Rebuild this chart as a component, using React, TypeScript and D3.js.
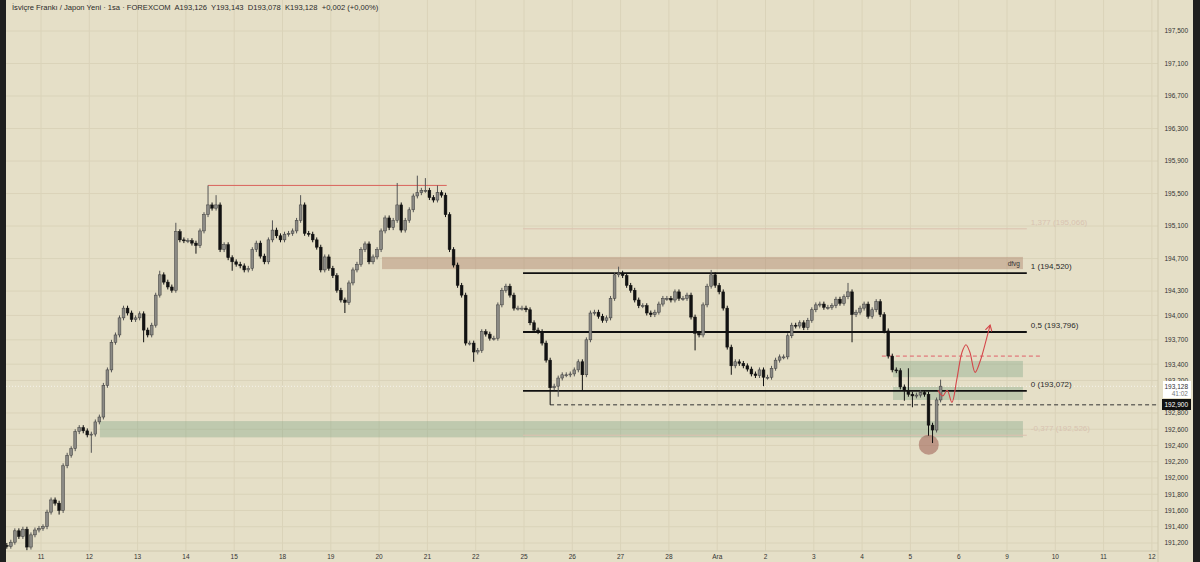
import React from "react";
import * as d3 from "d3";

// ---------- DATA ----------
const titleText =
  "İsviçre Frankı / Japon Yeni · 1sa · FOREXCOM  A193,126  Y193,143  D193,078  K193,128  +0,002 (+0,00%)";

const dayLabels = ["11", "12", "13", "14", "15", "18", "19", "20", "21", "22", "25", "26", "27", "28", "Ara", "2", "3", "4", "5", "6", "9", "10", "11", "12"];

const priceTicks = [197.5, 197.1, 196.7, 196.3, 195.9, 195.5, 195.1, 194.7, 194.3, 194.0, 193.7, 193.4, 193.2, 192.8, 192.6, 192.4, 192.2, 192.0, 191.8, 191.6, 191.4, 191.2];

// 2-hour candles, first one starts 19h before the "11" session
const candleStartHour = -19;
const candleStepHours = 2;
const firstOpen = 191.2;
const closes = [
  191.17, 191.16, 191.21, 191.35, 191.28, 191.37, 191.15, 191.30, 191.36, 191.38,
  191.40, 191.58, 191.73, 191.69, 191.60, 192.15, 192.28, 192.36, 192.57, 192.62,
  192.58, 192.53, 192.54, 192.69, 192.75, 193.14, 193.33, 193.67, 193.76, 193.97,
  194.09, 194.03, 193.95, 193.97, 194.02, 193.82, 193.76, 193.88, 194.25, 194.50,
  194.41, 194.35, 194.31, 195.03, 194.93, 194.92, 194.92, 194.89, 194.86, 195.04,
  195.24, 195.36, 195.32, 195.36, 194.81, 194.87, 194.71, 194.66, 194.63, 194.61,
  194.56, 194.58, 194.81, 194.89, 194.73, 194.66, 194.93, 195.05, 194.98, 194.93,
  195.00, 195.01, 195.04, 195.17, 195.36, 195.01, 195.00, 194.93, 194.84, 194.56,
  194.72, 194.58, 194.49, 194.31, 194.19, 194.16, 194.40, 194.56, 194.63, 194.81,
  194.88, 194.66, 194.72, 194.81, 195.04, 195.20, 195.08, 195.17, 195.36, 195.05,
  195.17, 195.30, 195.47, 195.51, 195.54, 195.54, 195.45, 195.42, 195.51, 195.48,
  195.24, 194.81, 194.62, 194.37, 194.25, 193.66, 193.66, 193.55, 193.57, 193.80,
  193.77, 193.72, 193.72, 194.13, 194.31, 194.36, 194.25, 194.09, 194.09, 194.09,
  194.07, 193.91, 193.82, 193.80, 193.66, 193.45, 193.11, 193.13, 193.23, 193.27,
  193.27, 193.28, 193.33, 193.43, 193.27, 193.70, 194.03, 194.04, 193.99, 193.94,
  193.97, 194.21, 194.50, 194.52, 194.49, 194.37, 194.31, 194.19, 194.12, 194.12,
  194.03, 194.01, 194.04, 194.14, 194.21, 194.21, 194.19, 194.29, 194.21, 194.21,
  194.25, 193.98, 193.78, 193.76, 194.13, 194.36, 194.50, 194.37, 194.29, 194.09,
  193.61, 193.38, 193.43, 193.41, 193.38, 193.34, 193.28, 193.26, 193.33, 193.24,
  193.24, 193.35, 193.45, 193.49, 193.49, 193.75, 193.88, 193.87, 193.91, 193.85,
  193.94, 194.07, 194.13, 194.14, 194.10, 194.10, 194.12, 194.20, 194.15, 194.23,
  194.29, 194.01, 194.04, 194.09, 194.14, 193.99, 194.07, 194.17, 194.01, 193.81,
  193.50, 193.33, 193.32, 193.12, 193.08, 193.03, 193.01, 193.02, 193.05, 193.03,
  192.65, 192.59, 192.96, 193.13,
];
const defaultWick = 0.03;
const highSpikes: [number, number][] = [
  [39, 194.55], [43, 195.14], [51, 195.6], [53, 195.48], [67, 195.17], [74, 195.48],
  [98, 195.63], [103, 195.72], [105, 195.69], [108, 195.6], [153, 194.6], [176, 194.56],
  [210, 194.4], [225, 193.35], [233, 193.21],
];
const lowSpikes: [number, number][] = [
  [6, 191.11], [14, 191.55], [22, 192.31], [35, 193.67], [48, 194.76], [57, 194.55],
  [85, 194.03], [117, 193.43], [136, 192.9], [138, 193.0], [144, 193.08], [172, 193.57],
  [181, 193.27], [189, 193.13], [211, 193.67], [224, 192.95], [226, 192.87], [230, 192.52],
  [231, 192.43],
];

const fibStart = 9.98;
const fibEnd = 20.41;
const fibRatios = ["1,377", "1", "0,5", "0", "-0,377"];
const fibPrices = [195.066, 194.52, 193.796, 193.072, 192.526];
const fibFaint = [true, false, false, false, true];

const zoneX0 = [7.06, 1.22, 17.64, 17.64];
const zoneX1 = [20.33, 20.33, 20.33, 20.33];
const zoneTop = [194.72, 192.7, 193.44, 193.12];
const zoneBottom = [194.57, 192.5, 193.24, 192.96];
const zoneColor = ["rgba(172,128,104,0.42)", "rgba(120,160,130,0.35)", "rgba(120,160,130,0.35)", "rgba(120,160,130,0.35)"];

const highLine = { x0: 3.46, x1: 8.4, price: 195.6 };
const redDashed = { x0: 17.41, x1: 20.74, price: 193.5 };
const blackDashed = { x0: 10.54, price: 192.9 };
const lastPrice = 193.128;
const markerCircle = { day: 18.38, price: 192.41 };
const projectionDays = [18.57, 18.67, 18.76, 18.86, 18.96, 19.07, 19.15, 19.23, 19.34, 19.44, 19.57, 19.65];
const projectionPrices = [193.08, 193.01, 193.08, 192.93, 193.21, 193.55, 193.64, 193.55, 193.3, 193.43, 193.7, 193.88];

// ---------- LAYOUT ----------
const W = 1200;
const H = 562;
const plotLeft = 6;
const plotRight = 1158;
const axisBottom = 551;
const font = "'Liberation Sans', Arial, sans-serif";
const bg = "#e5dfc7";
const grid = "#dad3b9";

const fmt = (v: number) => d3.format(".3f")(v).replace(".", ",");

export default function App() {
  const x = d3.scaleLinear().domain([0, 23]).range([41, 41 + 48.3 * 23]);
  const y = d3.scaleLinear().domain([191.2, 197.5]).range([543, 31]);

  const hiMap = new Map(highSpikes);
  const loMap = new Map(lowSpikes);
  const candles = closes.map((c, i) => {
    const o = i === 0 ? firstOpen : closes[i - 1];
    const t = (candleStartHour + candleStepHours * i) / 24;
    const h = hiMap.has(i) ? (hiMap.get(i) as number) : Math.max(o, c) + defaultWick;
    const l = loMap.has(i) ? (loMap.get(i) as number) : Math.min(o, c) - defaultWick;
    return { t, o, c, h, l };
  });
  const bodyW = 2.8;

  const projLine = d3
    .line<number>()
    .x((_, i) => x(projectionDays[i]))
    .y((p) => y(p))
    .curve(d3.curveCatmullRom.alpha(0.5));

  return (
    <div style={{ position: "absolute", left: 0, top: 0 }}>
      <svg width={W} height={H} style={{ display: "block" }}>
        <defs>
          <marker id="arr" viewBox="0 0 8 8" refX="6" refY="4" markerWidth="7" markerHeight="7" orient="auto">
            <path d="M0,0.5 L6,4 L0,7.5" fill="none" stroke="#d4474a" strokeWidth="1.2" />
          </marker>
        </defs>
        <rect x={0} y={0} width={W} height={H} fill={bg} />
        {/* grid */}
        {priceTicks.map((p) => (
          <line key={"hg" + p} x1={plotLeft} x2={plotRight} y1={y(p)} y2={y(p)} stroke={grid} strokeWidth={1} />
        ))}
        {dayLabels.map((d, i) => (
          <line key={"vg" + i} x1={x(i)} x2={x(i)} y1={0} y2={axisBottom} stroke={grid} strokeWidth={1} />
        ))}
        {/* zones */}
        {zoneX0.map((x0, i) => (
          <rect
            key={"z" + i}
            x={x(x0)}
            width={x(zoneX1[i]) - x(x0)}
            y={y(zoneTop[i])}
            height={y(zoneBottom[i]) - y(zoneTop[i])}
            fill={zoneColor[i]}
          />
        ))}
        <text x={x(zoneX1[0]) - 3} y={y(zoneBottom[0]) - 3} fontSize={6.5} fontFamily={font} fill="#333" textAnchor="end">
          dfvg
        </text>
        {/* last price dotted line */}
        <line x1={plotLeft} x2={plotRight} y1={y(lastPrice)} y2={y(lastPrice)} stroke="#f6f3ea" strokeWidth={1} strokeDasharray="1,2" />
        {/* high line */}
        <line x1={x(highLine.x0)} x2={x(highLine.x1)} y1={y(highLine.price)} y2={y(highLine.price)} stroke="#d9625b" strokeWidth={1} />
        {/* fib */}
        {fibPrices.map((p, i) => (
          <g key={"f" + i}>
            <line
              x1={x(fibStart)}
              x2={x(fibEnd)}
              y1={y(p)}
              y2={y(p)}
              stroke={fibFaint[i] ? "#dcc0b0" : "#111"}
              strokeWidth={fibFaint[i] ? 1 : 1.8}
            />
            <text x={x(fibEnd) + 4} y={y(p) - 4} fontSize={8} fontFamily={font} fill={fibFaint[i] ? "#d8c3b1" : "#2a2a2a"}>
              {`${fibRatios[i]} (${fmt(p)})`}
            </text>
          </g>
        ))}
        {/* dashed lines */}
        <line x1={x(blackDashed.x0)} x2={plotRight} y1={y(blackDashed.price)} y2={y(blackDashed.price)} stroke="#333" strokeWidth={1} strokeDasharray="4,3" />
        <line x1={x(redDashed.x0)} x2={x(redDashed.x1)} y1={y(redDashed.price)} y2={y(redDashed.price)} stroke="#e0606a" strokeWidth={1} strokeDasharray="4,3" />
        {/* circle */}
        <circle cx={x(markerCircle.day)} cy={y(markerCircle.price)} r={10} fill="rgba(150,80,70,0.5)" />
        {/* candles */}
        {candles.map((d, i) => {
          const cx = x(d.t);
          const up = d.c >= d.o;
          const top = y(Math.max(d.o, d.c));
          const bh = Math.max(1, y(Math.min(d.o, d.c)) - top);
          return (
            <g key={"c" + i}>
              <line x1={cx} x2={cx} y1={y(d.h)} y2={y(d.l)} stroke={up ? "#555" : "#111"} strokeWidth={1} />
              <rect
                x={cx - bodyW / 2}
                y={top}
                width={bodyW}
                height={bh}
                fill={up ? "#8b8a85" : "#121212"}
                stroke={up ? "#3a3a3a" : "#121212"}
                strokeWidth={0.5}
              />
            </g>
          );
        })}
        {/* projection */}
        <path d={projLine(projectionPrices) || ""} fill="none" stroke="#d4474a" strokeWidth={1.1} markerEnd="url(#arr)" />
        {/* axes */}
        <line x1={plotLeft} x2={plotRight} y1={axisBottom} y2={axisBottom} stroke="#cfc8ae" strokeWidth={1} />
        <line x1={plotRight} x2={plotRight} y1={0} y2={H} stroke="#cfc8ae" strokeWidth={1} />
        {priceTicks.map((p) => (
          <text key={"pt" + p} x={1188} y={y(p) + 2.3} fontSize={6.5} fontFamily={font} fill="#333" textAnchor="end">
            {fmt(p)}
          </text>
        ))}
        {dayLabels.map((d, i) => (
          <text key={"dl" + i} x={x(i)} y={559} fontSize={6.5} fontFamily={font} fill="#333" textAnchor="middle">
            {d}
          </text>
        ))}
        {/* price boxes */}
        <rect x={1163} y={381} width={28} height={17} fill="#ffffff" />
        <text x={1188} y={388.5} fontSize={6.5} fontFamily={font} fill="#333" textAnchor="end">
          {fmt(lastPrice)}
        </text>
        <text x={1188} y={396} fontSize={6.5} fontFamily={font} fill="#777" textAnchor="end">
          41:02
        </text>
        <rect x={1162} y={399} width={29} height={11} fill="#111" />
        <text x={1188} y={407.3} fontSize={6.5} fontFamily={font} fill="#fff" textAnchor="end">
          {fmt(blackDashed.price)}
        </text>
        {/* title */}
        <text x={12} y={9.5} fontSize={7.6} fontFamily={font} fill="#2a2a2a" style={{ whiteSpace: "pre" }}>
          {titleText}
        </text>
        {/* edge strips */}
        <rect x={0} y={0} width={6} height={H} fill="#1f1f1f" />
        <rect x={1193} y={0} width={7} height={H} fill="#1f1f1f" />
      </svg>
    </div>
  );
}
